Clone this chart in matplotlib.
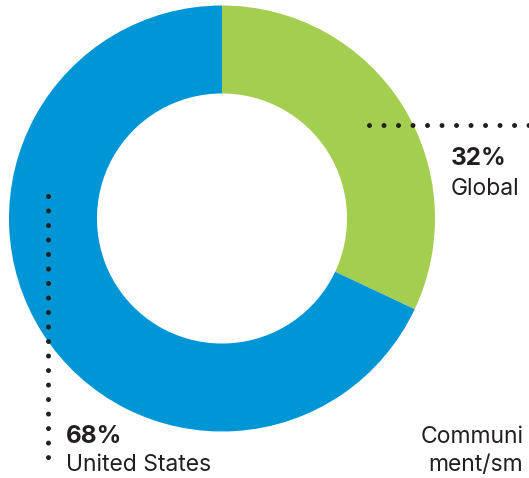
import matplotlib
matplotlib.use("Agg")
import matplotlib.pyplot as plt

# donut data (share of total, in %)
regions = ["Global", "United States"]
shares = [32, 68]
colors = ["#A4CE50", "#0096D6"]

W, H = 529, 478
plt.rcParams['font.family'] = ['Inter', 'DejaVu Sans']
text_color = "#231F20"

fig = plt.figure(figsize=(W / 100, H / 100), dpi=100)
ax = fig.add_axes([0, 0, 1, 1])
ax.set_xlim(0, W)
ax.set_ylim(0, H)
ax.set_aspect("equal")
ax.axis("off")

# pixel positions measured from top -> flip for data coords
cx, cy = 222, H - 218.5
R = 213
ax.pie(shares, colors=colors, startangle=90, counterclock=False,
       center=(cx, cy), radius=R,
       wedgeprops=dict(width=R * 0.413, linewidth=0))
ax.set_xlim(0, W)
ax.set_ylim(0, H)

# dotted leader lines
dots = dict(color=text_color, linewidth=3.6, linestyle=(0, (0.001, 2.9)),
            dash_capstyle="round", solid_capstyle="round")
ax.plot([369, 535], [H - 125, H - 125], **dots)
ax.plot([48, 48], [H - 196, H - 470], **dots)

# labels
ax.text(451, H - 165, f"{shares[0]}%", fontsize=17.5, fontweight="bold",
        color=text_color, ha="left", va="baseline")
ax.text(451, H - 195, regions[0], fontsize=16.5, color=text_color,
        ha="left", va="baseline")
ax.text(66, H - 443, f"{shares[1]}%", fontsize=17.5, fontweight="bold",
        color=text_color, ha="left", va="baseline")
ax.text(66, H - 471, regions[1], fontsize=16.5, color=text_color,
        ha="left", va="baseline")
ax.text(421, H - 443, "Communi", fontsize=16.5, color=text_color,
        ha="left", va="baseline")
ax.text(428, H - 471, "ment/sm", fontsize=16.5, color=text_color,
        ha="left", va="baseline")

fig.savefig("out.png", dpi=100)
